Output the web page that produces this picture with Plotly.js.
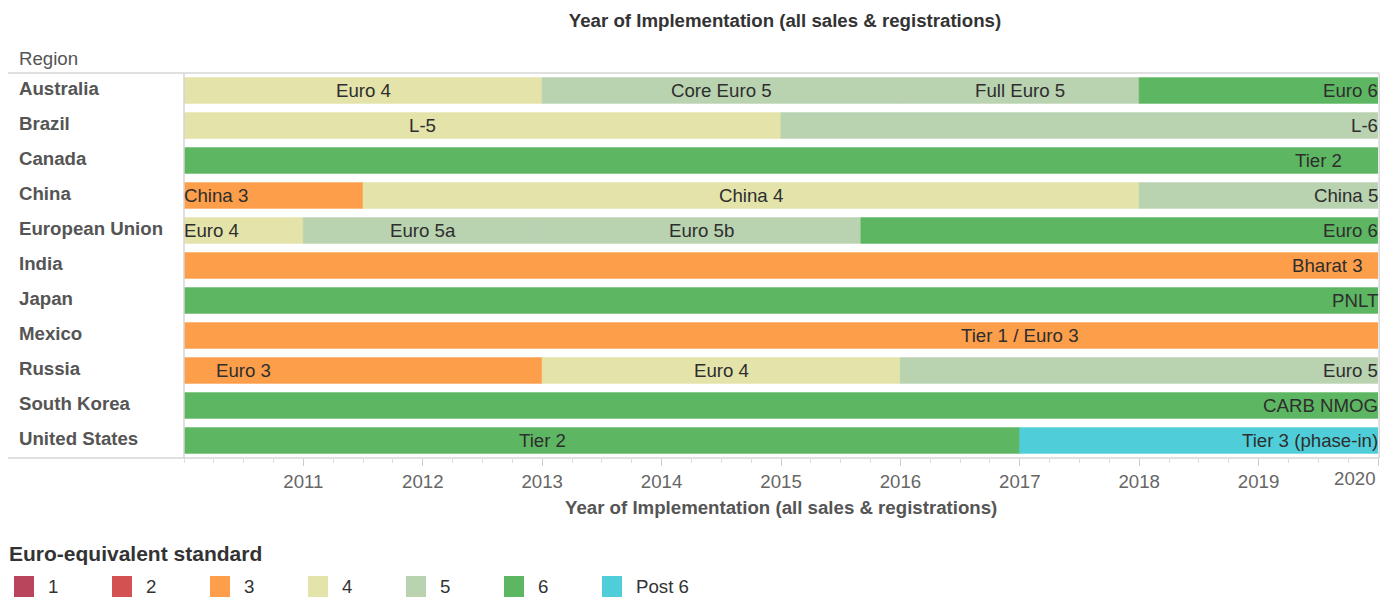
<!DOCTYPE html>
<html>
<head>
<meta charset="utf-8">
<script src="https://cdn.plot.ly/plotly-3.0.1.min.js"></script>
<style>
  html, body { margin: 0; padding: 0; background: #fff; }
  #chart { width: 1393px; height: 612px; }
</style>
</head>
<body>
<div id="chart"></div>
<script>
// ---------------- data ----------------
const regions = ['Australia', 'Brazil', 'Canada', 'China', 'European Union', 'India',
                 'Japan', 'Mexico', 'Russia', 'South Korea', 'United States'];

const levels = ['1', '2', '3', '4', '5', '6', 'Post 6'];
const levelColors = ['#B8455B', '#D45151', '#FD9E4A', '#E3E3AA', '#B9D2B0', '#5DB661', '#4FCED9'];

// one entry per standard segment (start / end years of each standard)
const segRegion = ['Australia', 'Australia', 'Australia', 'Australia',
                   'Brazil', 'Brazil',
                   'Canada',
                   'China', 'China', 'China',
                   'European Union', 'European Union', 'European Union', 'European Union',
                   'India', 'Japan', 'Mexico',
                   'Russia', 'Russia', 'Russia',
                   'South Korea',
                   'United States', 'United States'];
const segName = ['Euro 4', 'Core Euro 5', 'Full Euro 5', 'Euro 6',
                 'L-5', 'L-6',
                 'Tier 2',
                 'China 3', 'China 4', 'China 5',
                 'Euro 4', 'Euro 5a', 'Euro 5b', 'Euro 6',
                 'Bharat 3', 'PNLT', 'Tier 1 / Euro 3',
                 'Euro 3', 'Euro 4', 'Euro 5',
                 'CARB NMOG',
                 'Tier 2', 'Tier 3 (phase-in)'];
const segLevel = ['4', '5', '5', '6',
                  '4', '5',
                  '6',
                  '3', '4', '5',
                  '4', '5', '5', '6',
                  '3', '6', '3',
                  '3', '4', '5',
                  '6',
                  '6', 'Post 6'];
const segStart = [2010, 2013, 2016, 2018,
                  2009, 2015,
                  2010,
                  2007.5, 2011.5, 2018,
                  2005, 2011, 2013, 2015.67,
                  2010, 2009, 2010,
                  2008, 2013, 2016,
                  2009,
                  2009, 2017];
const segEnd = [2013, 2016, 2018, 2025,
                2015, 2025,
                2029,
                2011.5, 2018, 2025,
                2011, 2013, 2015.67, 2025,
                2029.15, 2035, 2024,
                2013, 2016, 2025,
                2035,
                2017, 2025];

const yearTicks = [2011, 2012, 2013, 2014, 2015, 2016, 2017, 2018, 2019, 2020];
const xMin = 2010, xMax = 2020;

// ---------------- layout geometry ----------------
const W = 1393, H = 612;
const L = 184, R = 1378, T = 73, B = 458;
const FONT = '"Liberation Sans", Arial, Helvetica, sans-serif';
const FS = 18.67;
const pxPerYear = (R - L) / (xMax - xMin);
const px2x = px => (px - L) / (R - L);
const py2y = py => (B - py) / (B - T);

const canvas = document.createElement('canvas');
const ctx = canvas.getContext('2d');
function textWidth(s, size, bold) {
  ctx.font = (bold ? 'bold ' : '') + size + 'px "Liberation Sans", Arial, sans-serif';
  return ctx.measureText(s).width;
}

// ---------------- traces ----------------
const traces = levels.map((lv, li) => {
  const idx = segLevel.map((v, i) => v === lv ? i : -1).filter(i => i >= 0);
  return {
    type: 'bar',
    orientation: 'h',
    name: lv,
    y: idx.map(i => segRegion[i]),
    base: idx.map(i => segStart[i]),
    x: idx.map(i => segEnd[i] - segStart[i]),
    width: 0.73,
    marker: { color: levelColors[li], line: { width: 0.8, color: levelColors[li] } },
    hoverinfo: 'skip',
    showlegend: false
  };
});

// ---------------- annotations ----------------
const annotations = [];

// segment labels (centred on the segment, kept inside its visible part)
segName.forEach((name, i) => {
  const s = segStart[i], e = segEnd[i];
  const visS = Math.max(s, xMin), visE = Math.min(e, xMax);
  const hw = textWidth(name, FS, false) / 2 / pxPerYear;
  let c = (s + e) / 2;
  c = Math.min(Math.max(c, visS + hw), visE - hw);
  annotations.push({
    x: c, y: segRegion[i], xref: 'x', yref: 'y',
    text: name, showarrow: false, xanchor: 'center', yanchor: 'middle',
    font: { family: FONT, size: FS, color: '#2E2E2E' }
  });
});

// region row labels
regions.forEach(r => {
  annotations.push({
    x: px2x(17), y: r, xref: 'paper', yref: 'y', yshift: 2,
    text: r, showarrow: false, xanchor: 'left', yanchor: 'middle',
    font: { family: FONT, size: FS, color: '#555555', weight: 'bold' }
  });
});

// "Region" header
annotations.push({
  x: px2x(17), y: py2y(59), xref: 'paper', yref: 'paper',
  text: 'Region', showarrow: false, xanchor: 'left', yanchor: 'middle',
  font: { family: FONT, size: FS, color: '#555555' }
});

// last tick label, right-aligned to the plot edge
annotations.push({
  x: xMax, y: py2y(479), xref: 'x', yref: 'paper',
  text: String(yearTicks[yearTicks.length - 1]), showarrow: false, xanchor: 'right', yanchor: 'middle',
  font: { family: FONT, size: FS, color: '#666666' }
});

// axis title
annotations.push({
  x: 0.5, y: py2y(507), xref: 'paper', yref: 'paper',
  text: 'Year of Implementation (all sales & registrations)', showarrow: false,
  xanchor: 'center', yanchor: 'middle',
  font: { family: FONT, size: FS, color: '#555555', weight: 'bold' }
});

// legend title
annotations.push({
  x: px2x(7), y: py2y(553), xref: 'paper', yref: 'paper',
  text: 'Euro-equivalent standard', showarrow: false, xanchor: 'left', yanchor: 'middle',
  font: { family: FONT, size: 21, color: '#333333', weight: 'bold' }
});

// ---------------- shapes ----------------
const lineCol = '#D6D6D6';
const shapes = [
  { type: 'line', xref: 'paper', yref: 'paper', x0: px2x(8), x1: 1.001, y0: 1, y1: 1, line: { color: lineCol, width: 1.5 } },
  { type: 'line', xref: 'paper', yref: 'paper', x0: px2x(8), x1: 1.001, y0: 0, y1: 0, line: { color: lineCol, width: 1.5 } },
  { type: 'line', xref: 'paper', yref: 'paper', x0: 0, x1: 0, y0: 0, y1: 1, line: { color: lineCol, width: 1.5 } },
  { type: 'line', xref: 'paper', yref: 'paper', x0: 1.001, x1: 1.001, y0: 0, y1: 1, line: { color: lineCol, width: 1.5 } }
];

// legend swatches + labels
levels.forEach((lv, i) => {
  const x0 = 14 + i * 98;
  shapes.push({
    type: 'rect', xref: 'paper', yref: 'paper',
    x0: px2x(x0), x1: px2x(x0 + 20), y0: py2y(597), y1: py2y(576),
    fillcolor: levelColors[i], line: { width: 0 }
  });
  annotations.push({
    x: px2x(x0 + 32), y: py2y(586), xref: 'paper', yref: 'paper',
    text: lv, showarrow: false, xanchor: 'left', yanchor: 'middle',
    font: { family: FONT, size: FS, color: '#333333' }
  });
});

const layout = {
  width: W, height: H,
  margin: { l: L, r: W - R, t: T, b: H - B, pad: 0 },
  paper_bgcolor: '#ffffff', plot_bgcolor: '#ffffff',
  barmode: 'overlay',
  showlegend: false,
  title: {
    text: 'Year of Implementation (all sales & registrations)',
    x: 785 / W, xref: 'container', xanchor: 'center',
    y: 1 - 20 / H, yref: 'container', yanchor: 'middle',
    font: { family: FONT, size: FS, color: '#333333', weight: 'bold' }
  },
  xaxis: {
    range: [xMin, xMax],
    tickmode: 'array',
    tickvals: yearTicks,
    ticktext: yearTicks.map((t, i) => i === yearTicks.length - 1 ? '' : String(t)),
    ticks: 'outside', ticklen: 7, tickcolor: '#CCCCCC', tickwidth: 1,
    minor: { tickmode: 'linear', tick0: xMin, dtick: 0.25, ticks: 'outside', ticklen: 4, tickcolor: '#DDDDDD', showgrid: false },
    tickfont: { family: FONT, size: FS, color: '#666666' },
    showgrid: false, zeroline: false, showline: false,
    fixedrange: true
  },
  yaxis: {
    type: 'category',
    categoryorder: 'array', categoryarray: regions,
    range: [regions.length - 0.5, -0.5],
    showticklabels: false, ticks: '',
    showgrid: false, zeroline: false, showline: false,
    fixedrange: true
  },
  annotations: annotations,
  shapes: shapes
};

Plotly.newPlot('chart', traces, layout, { displayModeBar: false, staticPlot: true });
</script>
</body>
</html>
